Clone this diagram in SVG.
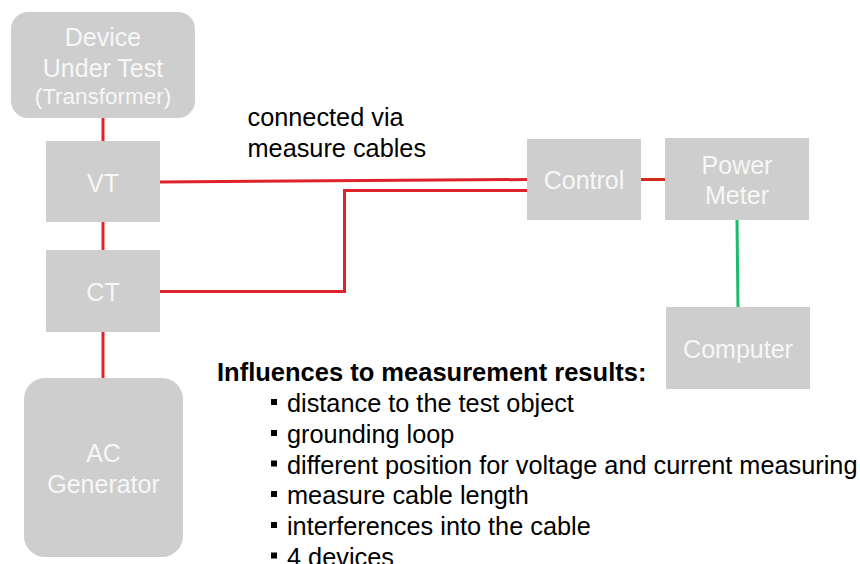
<svg xmlns="http://www.w3.org/2000/svg" width="860" height="564" viewBox="0 0 860 564">
  <style>
    .box { fill: #cecece; }
    .lbl { font-family: "Liberation Sans", Arial, sans-serif; font-size: 25px; fill: #f7f7f7; text-anchor: middle; }
    .small { font-size: 22.5px; }
    .txt { font-family: "Liberation Sans", Arial, sans-serif; font-size: 25.3px; fill: #000; }
    .bold { font-weight: bold; font-size: 25.5px; }
    .red { stroke: #e1222b; stroke-width: 3; fill: none; }
    .red2 { stroke: #d42a1c; stroke-width: 3; fill: none; }
    .green { stroke: #1dbb6c; stroke-width: 3; fill: none; }
    .bullet { fill: #000; }
  </style>

  <rect width="860" height="564" fill="#ffffff"/>

  <!-- cables between the devices -->
  <g id="connectors">
    <line class="red" x1="103" y1="117" x2="103" y2="142"/>
    <line class="red" x1="103" y1="221" x2="103" y2="251"/>
    <line class="red" x1="103" y1="331" x2="103" y2="379"/>
    <line class="red" x1="160" y1="182" x2="528" y2="179.5"/>
    <polyline class="red" points="160,291.5 344.5,291.5 344.5,190.5 528,190.5"/>
    <line class="red2" x1="640" y1="179.5" x2="666" y2="179.5"/>
    <line class="green" x1="737" y1="220" x2="738" y2="308"/>
  </g>

  <g id="dut">
    <rect class="box" x="11" y="12" width="184" height="106" rx="17"/>
    <text class="lbl" x="103" y="46">Device</text>
    <text class="lbl" x="103" y="77">Under Test</text>
    <text class="lbl small" x="103" y="104">(Transformer)</text>
  </g>

  <g id="vt">
    <rect class="box" x="46" y="141" width="114" height="81"/>
    <text class="lbl" x="103" y="191.5">VT</text>
  </g>

  <g id="ct">
    <rect class="box" x="46" y="250" width="114" height="82"/>
    <text class="lbl" x="103" y="300.5">CT</text>
  </g>

  <g id="generator">
    <rect class="box" x="24" y="378" width="159" height="179" rx="21"/>
    <text class="lbl" x="103.5" y="462">AC</text>
    <text class="lbl" x="103.5" y="493">Generator</text>
  </g>

  <g id="control">
    <rect class="box" x="527" y="139" width="114" height="81"/>
    <text class="lbl" x="584" y="189">Control</text>
  </g>

  <g id="power-meter">
    <rect class="box" x="665" y="138" width="144" height="82"/>
    <text class="lbl" x="737" y="174">Power</text>
    <text class="lbl" x="737" y="204">Meter</text>
  </g>

  <g id="computer">
    <rect class="box" x="666" y="307" width="144" height="82"/>
    <text class="lbl" x="738" y="357.5">Computer</text>
  </g>

  <g id="cable-note">
    <text class="txt" x="247.5" y="126">connected via</text>
    <text class="txt" x="247.5" y="157">measure cables</text>
  </g>

  <g id="influences">
    <text class="txt bold" x="217" y="381">Influences to measurement results:</text>
    <rect class="bullet" x="271" y="399" width="6" height="6"/>
    <text class="txt" x="287" y="412">distance to the test object</text>
    <rect class="bullet" x="271" y="430" width="6" height="6"/>
    <text class="txt" x="287" y="443">grounding loop</text>
    <rect class="bullet" x="271" y="460.5" width="6" height="6"/>
    <text class="txt" x="287" y="473.5">different position for voltage and current measuring</text>
    <rect class="bullet" x="271" y="491" width="6" height="6"/>
    <text class="txt" x="287" y="504">measure cable length</text>
    <rect class="bullet" x="271" y="522" width="6" height="6"/>
    <text class="txt" x="287" y="535">interferences into the cable</text>
    <rect class="bullet" x="271" y="552.5" width="6" height="6"/>
    <text class="txt" x="287" y="565.5">4 devices</text>
  </g>
</svg>
